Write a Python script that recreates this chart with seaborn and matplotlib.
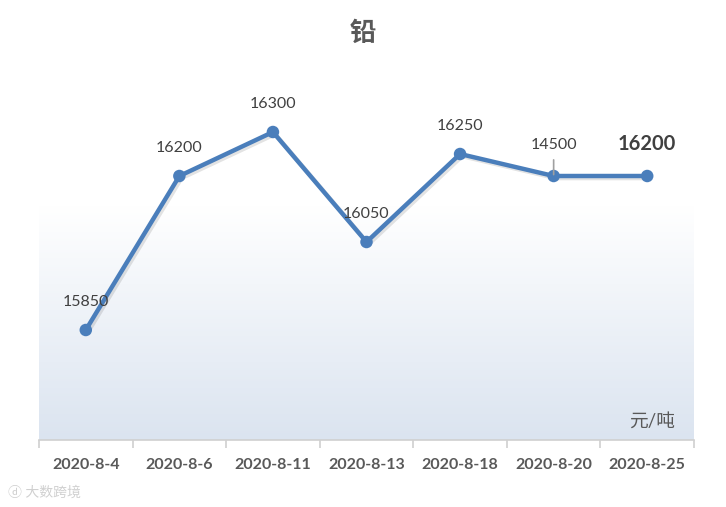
import numpy as np
import pandas as pd
import matplotlib
matplotlib.use('Agg')
import matplotlib.pyplot as plt
import matplotlib.patheffects as pe
import seaborn as sns
from matplotlib.colors import LinearSegmentedColormap

# data
dates = ['2020-8-4', '2020-8-6', '2020-8-11', '2020-8-13', '2020-8-18', '2020-8-20', '2020-8-25']
prices = [15850, 16200, 16300, 16050, 16250, 16200, 16200]
label_texts = ['15850', '16200', '16300', '16050', '16250', '14500', '16200']

df = pd.DataFrame({'date': dates, 'price': prices, 'x': range(len(dates))})

sns.set_theme(style='white')
plt.rcParams['font.family'] = ['Lato', 'Noto Sans CJK SC', 'DejaVu Sans']

W, H = 726, 507
fig = plt.figure(figsize=(W / 100, H / 100), dpi=100)
ax = fig.add_axes([39 / W, (H - 440) / H, (694 - 39) / W, (440 - 44) / H])

line_color = '#4a7ebb'
text_color = '#595959'

# background gradient (white -> pale blue)
grad_cmap = LinearSegmentedColormap.from_list('bg', ['#ffffff', '#dbe4f0'])
grad = np.linspace(0, 1, 256).reshape(-1, 1)
ax.imshow(grad, aspect='auto', cmap=grad_cmap, origin='upper',
          extent=[-0.5, 6.5, 15600, 16130], zorder=0)

sns.lineplot(data=df, x='x', y='price', ax=ax, color=line_color, linewidth=3.2,
             marker='o', markersize=9, markeredgewidth=0, zorder=3,
             path_effects=[pe.SimpleLineShadow(offset=(1.5, -1.5), alpha=0.12), pe.Normal()])

ax.set_xlim(-0.5, 6.5)
ax.set_ylim(15600, 16500)

# data labels
for i, (v, t) in enumerate(zip(prices, label_texts)):
    if i == len(prices) - 1:
        ax.annotate(t, (i, v), xytext=(0, 23), textcoords='offset points',
                    ha='center', va='center', fontsize=14.5, fontweight='bold', color='#404040')
    elif t != str(v):
        ax.annotate(t, (i, v), xytext=(0, 22), textcoords='offset points',
                    ha='center', va='center', fontsize=11.5, color='#404040',
                    arrowprops=dict(arrowstyle='-', color='#a0a0a0', lw=1.2,
                                    shrinkA=3, shrinkB=1))
    else:
        ax.annotate(t, (i, v), xytext=(0, 20), textcoords='offset points',
                    ha='center', va='center', fontsize=11.5, color='#404040')

# axes styling
for s in ['top', 'left', 'right']:
    ax.spines[s].set_visible(False)
ax.spines['bottom'].set_color('#d0d0d0')
ax.spines['bottom'].set_linewidth(1.2)
ax.set_yticks([])
ax.set_xticks(df['x'])
ax.set_xticklabels(dates, fontsize=11.5, fontweight='bold', color=text_color)
ax.tick_params(axis='x', which='major', length=0, pad=13)
ax.set_xticks(np.arange(-0.5, 7, 1), minor=True)
ax.tick_params(axis='x', which='minor', length=6, width=1.2, color='#d0d0d0', bottom=True)
ax.set_xlabel('')
ax.set_ylabel('')

# unit label
ax.text(6.3, 15643, '元/吨', ha='right', va='center', fontsize=13.5, color=text_color)

# title
fig.text(0.5, 1 - 33 / H, '铅', ha='center', va='center', fontsize=19,
         fontweight='bold', color=text_color)

# watermark
fig.text(8 / W, 1 - 492 / H, 'ⓓ 大数跨境', ha='left', va='center', fontsize=10,
         color='#d0d0d0')

fig.savefig('out.png', dpi=100)
